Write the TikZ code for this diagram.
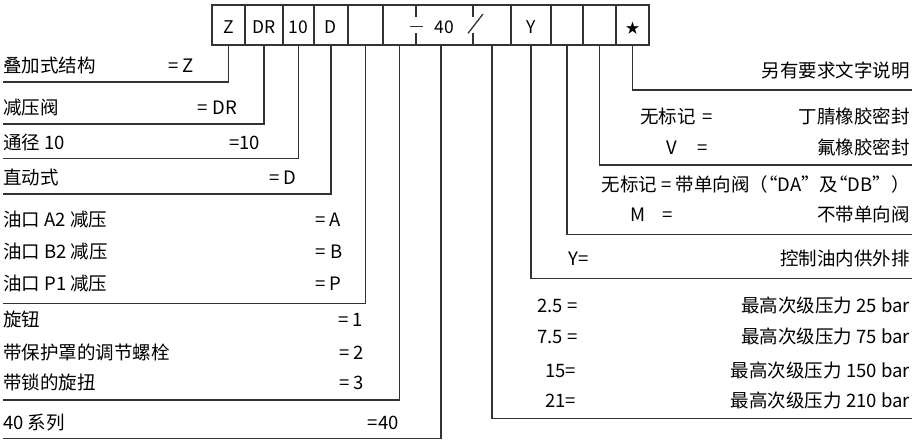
\documentclass[tikz,border=0pt]{standalone}
\usepackage{fontspec}
\setmainfont{Noto Sans CJK SC}
\usetikzlibrary{positioning}

\begin{document}
\begin{tikzpicture}[x=1pt,y=-1pt,
	cell/.style={draw=black!80, line width=1.3pt, minimum height=40pt, inner sep=0pt, outer sep=0pt, text height=17pt, text depth=0pt, font=\fontsize{17.5}{18}\selectfont},
	subcell/.style={cell, draw=none},
	lead/.style={line width=1.3pt, draw=black!80},
	txt/.style={inner sep=0pt, font=\fontsize{18.5}{20}\selectfont}]
	\useasboundingbox (0,0) rectangle (924,442);
	% code row
	\node[cell, minimum width=33pt, anchor=north west] (cZ) at (212,5) {Z};
	\node[cell, minimum width=38pt, right=0pt of cZ] (cDR) {DR};
	\node[cell, minimum width=31pt, right=0pt of cDR] (cNG) {10};
	\node[cell, minimum width=34pt, right=0pt of cNG] (cD) {D};
	\node[cell, minimum width=35pt, right=0pt of cD] (cA) {};
	\node[subcell, minimum width=33pt, right=0pt of cA] (cB) {};
	\node[subcell, minimum width=57pt, right=0pt of cB] (cS) {40};
	\node[subcell, minimum width=38pt, right=0pt of cS] (cP) {};
	\node[cell, minimum width=40pt, right=0pt of cP] (cY) {Y};
	\node[cell, minimum width=32pt, right=0pt of cY] (cM) {};
	\node[cell, minimum width=33pt, right=0pt of cM] (cV) {};
	\node[cell, minimum width=33pt, right=0pt of cV, text height=16pt, font=\fontsize{14}{16}\selectfont] (cX) {★};
	\draw[lead] (cB.north west) -- (cP.north east) (cB.south west) -- (cP.south east);
	\draw[lead] (cB.north east) -- ++(0,11.7) (cB.south east) -- ++(0,-12.3);
	\draw[lead] (cS.north east) -- ++(0,11.7) (cS.south east) -- ++(0,-12.3);
	\draw[lead] ([shift={(-6,1.7)}]cB.east) -- ++(12.7,0);
	\draw[lead] ([shift={(-5,8.3)}]cS.east) -- ++(15,-19.3);

	% leaders to the left
	\foreach \c/\y in {cZ/82, cDR/124, cNG/158.5, cD/194, cA/303.5, cB/400}{
		\coordinate (e\c) at (3,\y);
		\draw[lead] (\c.south) |- (e\c);
	}
	\coordinate (ecS) at (3,438.5);
	\draw[lead] ([xshift=-3.5pt]cS.south) |- (ecS);
	% leaders to the right
	\foreach \c/\y in {cP/418.5, cY/278.5, cM/234.5, cV/165, cX/90}{
		\coordinate (e\c) at (911.5,\y);
		\draw[lead] (\c.south) |- (e\c);
	}

	% left texts
	\foreach \i/\y/\a/\x/\b in {1/72.7/叠加式结构/168/= Z, 2/114.3/减压阀/197.7/= DR,
		3/149.3/通径 10/229/=10, 4/184.3/直动式/269/= D,
		5/226.7/油口 A2 减压/315/= A, 6/258.7/油口 B2 减压/315.7/= B, 7/290.3/油口 P1 减压/315/= P,
		8/326.7/旋钮/338/= 1, 9/359.3/带保护罩的调节螺栓/339/= 2, 10/389.3/带锁的旋扭/339/= 3,
		11/429.3/40 系列/367.7/=40}{
		\node[txt, anchor=base west] (l\i) at (3,\y) {\a};
		\node[txt, anchor=base west] (k\i) at (\x,\y) {\b};
	}

	% right texts
	\foreach \i/\y/\b in {1/77.7/另有要求文字说明, 2/123.3/丁腈橡胶密封, 3/154.3/氟橡胶密封,
		4/191/无标记 = 带单向阀（\kern-9pt“DA”及\kern-9pt“DB”）, 5/221/不带单向阀, 6/265.3/控制油内供外排,
		7/312.7/最高次级压力 25 bar, 8/343.7/最高次级压力 75 bar,
		9/377/最高次级压力 150 bar, 10/407.7/最高次级压力 210 bar}{
		\node[txt, anchor=base east] (r\i) at (910,\y) {\b};
	}
	\node[txt, anchor=base west] (q2) at (640,123.3) {无标记\hspace{3pt} =};
	\node[txt, anchor=base west] (q3) at (666.7,154.3) {V\hspace{20pt}=};
	\node[txt, anchor=base west] (q5) at (630,221) {M\hspace{17pt}=};
	\node[txt, anchor=base west] (q6) at (568.3,265.3) {Y=};
	\node[txt, anchor=base west] (q7) at (537,312.7) {2.5 =};
	\node[txt, anchor=base west] (q8) at (537,343.7) {7.5 =};
	\node[txt, anchor=base west] (q9) at (545,377) {15=};
	\node[txt, anchor=base west] (q10) at (545,407.7) {21=};
\end{tikzpicture}
\end{document}
